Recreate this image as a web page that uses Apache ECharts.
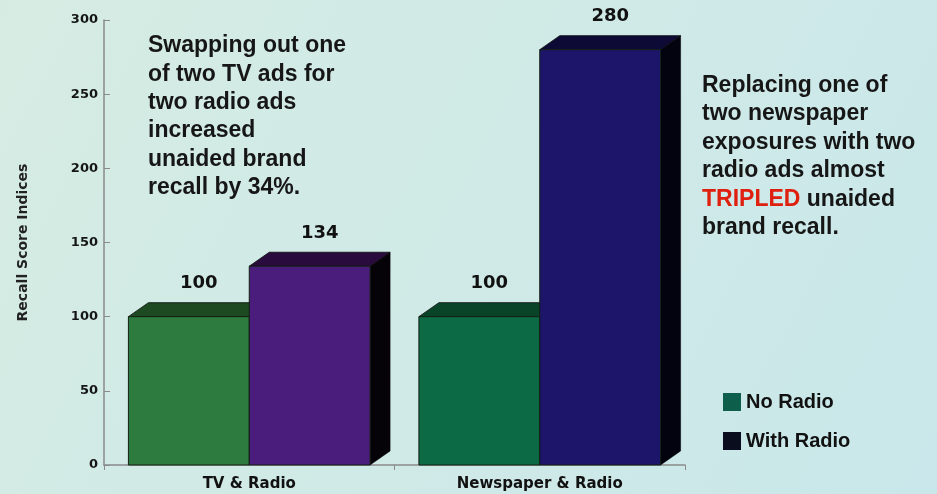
<!DOCTYPE html>
<html>
<head>
<meta charset="utf-8">
<script src="https://cdn.jsdelivr.net/npm/echarts@6/dist/echarts.min.js"></script>
<style>html,body{margin:0;padding:0;}#c{width:937px;height:494px;}</style>
</head>
<body>
<div id="c"></div>
<script>
const categories = ["TV & Radio", "Newspaper & Radio"];
const noRadio = [100, 100];
const withRadio = [134, 280];
const yTicks = [0, 50, 100, 150, 200, 250, 300];

const chart = echarts.init(document.getElementById('c'), null, {renderer: 'canvas'});

const DX = 20, DY = -14, BAR_FRAC = 0.416;
const styles = [
  {front: ['#2e7b3f', '#0c6a45'], top: ['#1d4a20', '#0a4428'], side: ['#0a140a', '#061008']},
  {front: ['#4a1c7c', '#1c1569'], top: ['#2a0b3e', '#0d0b36'], side: ['#050308', '#030310']}
];

function makeRender(si) {
  return function (params, api) {
    const ci = api.value(0), v = api.value(1);
    const base = api.coord([ci, 0]);
    const topP = api.coord([ci, v]);
    const band = api.size([1, 0])[0];
    const bw = band * BAR_FRAC;
    const x0 = base[0] - bw + si * bw;
    const x1 = x0 + bw;
    const yb = base[1], yt = topP[1];
    const st = styles[si];
    return {
      type: 'group',
      children: [
        {type: 'polygon', shape: {points: [[x1, yt], [x1 + DX, yt + DY], [x1 + DX, yb + DY], [x1, yb]]},
         style: {fill: st.side[ci], stroke: '#000', lineWidth: 0.5}},
        {type: 'polygon', shape: {points: [[x0, yt], [x0 + DX, yt + DY], [x1 + DX, yt + DY], [x1, yt]]},
         style: {fill: st.top[ci], stroke: '#0a0a0a', lineWidth: 0.8}},
        {type: 'rect', shape: {x: x0, y: yt, width: bw, height: yb - yt},
         style: {fill: st.front[ci], stroke: '#122012', lineWidth: 1}},
        {type: 'text', style: {text: String(v), x: x0 + bw / 2 + DX / 2, y: yt + DY - 10,
          align: 'center', verticalAlign: 'bottom', fill: '#111',
          font: 'bold 18px "DejaVu Sans"'}}
      ]
    };
  };
}

const option = {
  backgroundColor: {type: 'linear', x: 0, y: 0, x2: 1, y2: 1,
    colorStops: [{offset: 0, color: '#d6ece3'}, {offset: 1, color: '#c9e7ea'}]},
  animation: false,
  grid: {left: 104, top: 20, width: 581, height: 445},
  legend: {
    orient: 'vertical', left: 723, top: 392, padding: 0, itemWidth: 18, itemHeight: 18, itemGap: 19,
    icon: 'rect',
    textStyle: {fontFamily: 'Liberation Sans', fontWeight: 'bold', fontSize: 20, color: '#111'},
    data: [
      {name: 'No Radio', itemStyle: {color: '#0e5e4c'}},
      {name: 'With Radio', itemStyle: {color: '#0a0d1e'}}
    ]
  },
  xAxis: {
    type: 'category', data: categories,
    axisLine: {lineStyle: {color: '#8a8a8a', width: 1.5}},
    axisTick: {show: true, length: 5, lineStyle: {color: '#8a8a8a'}},
    axisLabel: {fontFamily: 'DejaVu Sans', fontWeight: 'bold', fontSize: 15, color: '#111', margin: 12}
  },
  yAxis: {
    type: 'value', min: yTicks[0], max: yTicks[yTicks.length - 1], interval: 50,
    name: 'Recall Score Indices', nameLocation: 'middle', nameGap: 74,
    nameTextStyle: {fontFamily: 'DejaVu Sans', fontWeight: 'bold', fontSize: 14, color: '#222'},
    axisLine: {show: true, lineStyle: {color: '#8a8a8a', width: 1.5}},
    axisTick: {show: true, inside: true, length: 6, lineStyle: {color: '#8a8a8a'}},
    splitLine: {show: false},
    axisLabel: {fontFamily: 'DejaVu Sans', fontWeight: 'bold', fontSize: 13, margin: 6,
      color: function (v) { return v === 300 ? '#3a1c1c' : (v === 250 ? '#5a3a28' : '#151515'); }}
  },
  series: [
    {name: 'No Radio', type: 'custom', renderItem: makeRender(0), itemStyle: {color: '#0e5e4c'},
     data: noRadio.map((v, i) => [i, v]), encode: {x: 0, y: 1}},
    {name: 'With Radio', type: 'custom', renderItem: makeRender(1), itemStyle: {color: '#0a0d1e'},
     data: withRadio.map((v, i) => [i, v]), encode: {x: 0, y: 1}}
  ],
  graphic: [
    {type: 'text', left: 148, top: 32, style: {
      text: 'Swapping out one\nof two TV ads for\ntwo radio ads\nincreased\nunaided brand\nrecall by 34%.',
      font: 'bold 23px "Liberation Sans"', fill: '#161616', lineHeight: 28.3}},
    {type: 'text', left: 702, top: 71, style: {
      text: 'Replacing one of\ntwo newspaper\nexposures with two\nradio ads almost\n{r|TRIPLED} unaided\nbrand recall.',
      font: 'bold 23px "Liberation Sans"', fill: '#161616', lineHeight: 28.5,
      rich: {r: {fill: '#e0200f', font: 'bold 23px "Liberation Sans"', lineHeight: 28.5}}}}
  ]
};
chart.setOption(option);
</script>
</body>
</html>
